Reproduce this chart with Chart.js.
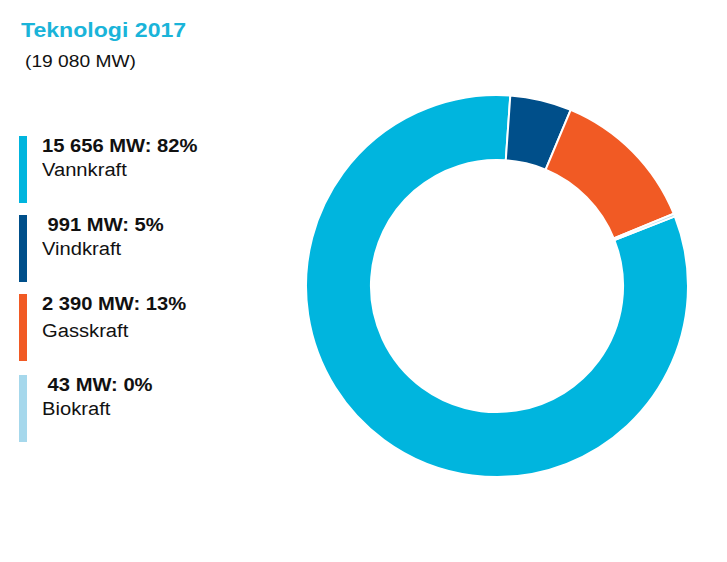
<!DOCTYPE html>
<html>
<head>
<meta charset="utf-8">
<script src="https://cdn.jsdelivr.net/npm/chart.js@4.4.1/dist/chart.umd.min.js"></script>
<style>
  body { margin: 0; background: #fff; font-family: "Liberation Sans", Arial, sans-serif; }
  #page { position: relative; width: 727px; height: 562px; overflow: hidden; }
  #title { position: absolute; left: 21px; top: 18px; font-size: 21px; font-weight: bold; color: #1ab4d9; transform: scaleX(1.1); transform-origin: left top; }
  #subtitle { position: absolute; left: 25px; top: 52px; font-size: 17px; color: #111; transform: scaleX(1.13); transform-origin: left top; }
  .entry { position: absolute; left: 19px; width: 240px; height: 67px; }
  .entry .bar { position: absolute; left: 0; top: 0; width: 8px; height: 67px; }
  .entry .val, .entry .name { position: absolute; left: 23px; font-size: 18px; color: #111; white-space: pre; transform: scaleX(1.12); transform-origin: left top; }
  .entry .val { top: 0; font-weight: bold; }
  #chartBox { position: absolute; left: 305px; top: 94px; width: 384px; height: 384px; }
</style>
</head>
<body>
<div id="page">
  <div id="title">Teknologi 2017</div>
  <div id="subtitle">(19 080 MW)</div>
  <div id="legend"></div>
  <div id="chartBox"><canvas id="techChart"></canvas></div>
</div>
<script>
const categories = ['Vannkraft', 'Vindkraft', 'Gasskraft', 'Biokraft'];
const capacityMW = [15656, 991, 2390, 43];
const valueLabels = ['15 656 MW: 82%', ' 991 MW: 5%', '2 390 MW: 13%', ' 43 MW: 0%'];
const colors = ['#00b5de', '#004f8a', '#f15a24', '#a6d8ec'];

// legend built from the same arrays
const legendTops = [136, 215, 294, 375];
const nameOffsets = [24, 24, 27, 24];
const legend = document.getElementById('legend');
categories.forEach((name, i) => {
  const el = document.createElement('div');
  el.className = 'entry';
  el.style.top = legendTops[i] + 'px';
  el.innerHTML =
    '<div class="bar" style="background:' + colors[i] + '"></div>' +
    '<div class="val">' + valueLabels[i] + '</div>' +
    '<div class="name" style="top:' + nameOffsets[i] + 'px">' + name + '</div>';
  legend.appendChild(el);
});

const ctx = document.getElementById('techChart').getContext('2d');
new Chart(ctx, {
  type: 'doughnut',
  data: {
    labels: categories,
    datasets: [
      {
        data: capacityMW,
        backgroundColor: colors,
        borderColor: '#ffffff',
        borderWidth: 2,
      },
    ],
  },
  options: {
    responsive: true,
    maintainAspectRatio: false,
    animation: false,
    cutout: '66%',
    rotation: 68.6,
    layout: { padding: 0 },
    plugins: {
      legend: { display: false },
      tooltip: { enabled: false },
    },
  },
});
</script>
</body>
</html>
